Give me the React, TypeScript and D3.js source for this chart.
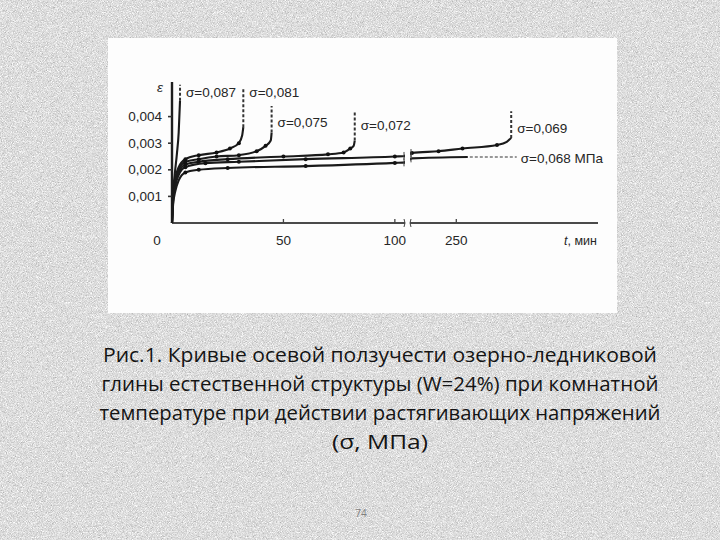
import React from "react";
import * as d3 from "d3";

// ---- data ----
const sigmaLabels = ["σ=0,087", "σ=0,081", "σ=0,075", "σ=0,072", "σ=0,069", "σ=0,068  МПа"];

const s087: [number, number][] = [[0, 0], [0.4, 0.001], [1.2, 0.0018], [2.2, 0.0026], [3.0, 0.0034], [3.6, 0.0046]];
const s081: [number, number][] = [[0, 0], [0.5, 0.0011], [1.5, 0.0017], [3, 0.0021], [6, 0.0024], [12, 0.00255], [20, 0.00265], [26, 0.0028], [30, 0.003], [31.5, 0.0033], [32, 0.0036]];
const s075: [number, number][] = [[0, 0], [0.5, 0.001], [1.5, 0.0016], [3, 0.002], [6, 0.0023], [12, 0.0024], [20, 0.0025], [30, 0.00255], [38, 0.0027], [42, 0.0029], [44.3, 0.0031], [44.7, 0.0034]];
const s072: [number, number][] = [[0, 0], [0.5, 0.0009], [1.5, 0.0015], [3, 0.0019], [6, 0.0022], [12, 0.0023], [25, 0.0024], [50, 0.0025], [70, 0.00258], [77, 0.00265], [80, 0.0028], [81.5, 0.0029], [82, 0.0031]];
const s069: [number, number][] = [[0, 0], [0.5, 0.0008], [1.5, 0.0014], [3, 0.0018], [6, 0.0021], [15, 0.00225], [30, 0.0023], [60, 0.0024], [100, 0.0025], [105, 0.00252], [200, 0.00263], [230, 0.0027], [257, 0.0028], [296, 0.00293], [307, 0.00305], [312, 0.0032]];
const s068: [number, number][] = [[0, 0], [0.5, 0.0007], [1.5, 0.0012], [3, 0.0016], [6, 0.0019], [12, 0.002], [25, 0.00207], [60, 0.00214], [100, 0.00226], [105, 0.00228], [200, 0.00243], [263, 0.00248]];

const seriesList = [s087, s081, s075, s072, s069, s068];
// dashed continuation: top strain of vertical dash (null = horizontal dash to label)
const dashTops: (number | null)[] = [0.0052, 0.0051, 0.0044, 0.0042, 0.0042, null];
// label anchor strain (baseline)
const labelEps = [0.00474, 0.00474, 0.00361, 0.0035, 0.00338, 0.00226];
const labelT = [3.6, 32, 44.7, 82, 312, 316];

const yTicks = [0.001, 0.002, 0.003, 0.004];
const yTickLabels = ["0,001", "0,002", "0,003", "0,004"];
const xTicks = [50, 100, 250];
const xTickLabels = ["50", "100", "250"];

const captionLines = [
  "Рис.1. Кривые осевой ползучести озерно-ледниковой",
  "глины естественной структуры (W=24%) при комнатной",
  "температуре при действии растягивающих напряжений",
  "(σ, МПа)",
];
const pageNumber = "74";

export default function App() {
  const x = d3.scaleLinear().domain([0, 105, 200, 410]).range([172, 406, 412, 598]);
  const y = d3.scaleLinear().domain([0, 0.005]).range([223, 90]);
  const line = d3
    .line<[number, number]>()
    .x((d) => x(d[0]))
    .y((d) => y(d[1]))
    .curve(d3.curveMonotoneX);

  const chartFont = "'Liberation Sans', Arial, sans-serif";
  const capWidths = [554, 557, 561, 96];
  const capBase = [362, 391, 420, 449];
  const ink = "#262626";

  return (
    <svg
      width={720}
      height={540}
      style={{ position: "absolute", left: 0, top: 0 }}
      xmlns="http://www.w3.org/2000/svg"
    >
      <defs>
        <filter id="noise" x="0" y="0" width="100%" height="100%" colorInterpolationFilters="sRGB">
          <feTurbulence type="fractalNoise" baseFrequency="1.2" numOctaves="2" seed="4" result="t" />
          <feColorMatrix
            in="t"
            type="matrix"
            values="0.33 0.33 0.33 0 0  0.33 0.33 0.33 0 0  0.33 0.33 0.33 0 0  0 0 0 0 1"
          />
          <feComponentTransfer>
            <feFuncR type="linear" slope="0.7" intercept="0.52" />
            <feFuncG type="linear" slope="0.7" intercept="0.52" />
            <feFuncB type="linear" slope="0.7" intercept="0.52" />
          </feComponentTransfer>
        </filter>
      </defs>
      <rect x={0} y={0} width={720} height={540} fill="#d8d8d8" />
      <rect x={0} y={0} width={720} height={540} filter="url(#noise)" />
      {/* white figure panel */}
      <rect x={108} y={38} width={509} height={275} fill="#fdfdfd" />

      {/* axes */}
      <line x1={172} x2={172} y1={y(0.0053)} y2={y(0)} stroke="#1e1e1e" strokeWidth={2.4} />
      <line x1={172} x2={598} y1={y(0)} y2={y(0)} stroke="#4a4a4a" strokeWidth={2.2} />
      {yTicks.map((t, i) => (
        <g key={"yt" + i}>
          <line x1={168} x2={172} y1={y(t)} y2={y(t)} stroke="#333" strokeWidth={1.6} />
          <text
            x={162}
            y={y(t) + 4.5}
            textAnchor="end"
            fontFamily={chartFont}
            fontSize={13.5}
            fill={ink}
          >
            {yTickLabels[i]}
          </text>
        </g>
      ))}
      {xTicks.map((t, i) => (
        <g key={"xt" + i}>
          <line x1={x(t)} x2={x(t)} y1={y(0) - 4} y2={y(0)} stroke="#444" strokeWidth={1.3} />
          <text
            x={x(t)}
            y={245}
            textAnchor="middle"
            fontFamily={chartFont}
            fontSize={13.5}
            fill={ink}
          >
            {xTickLabels[i]}
          </text>
        </g>
      ))}
      <text x={157} y={245} textAnchor="middle" fontFamily={chartFont} fontSize={13.5} fill={ink}>
        0
      </text>
      <text x={160} y={92} textAnchor="middle" fontFamily={chartFont} fontSize={13.5} fontStyle="italic" fill={ink}>
        ε
      </text>
      <text x={564} y={245} fontFamily={chartFont} fontSize={12.5} fill={ink}>
        <tspan fontStyle="italic">t</tspan>, мин
      </text>
      {/* x axis break */}
      <rect x={405} y={y(0) - 5} width={5} height={10} fill="#fdfdfd" />
      <path d={`M404,${y(0) + 4} q2,-4 0,-8 M411,${y(0) + 4} q-2,-4 0,-8`} stroke="#444" fill="none" strokeWidth={1} />

      {/* curves */}
      {seriesList.map((s, i) => {
        const last = s[s.length - 1];
        const dt = dashTops[i];
        return (
          <g key={"s" + i}>
            <path d={line(s) || ""} fill="none" stroke="#1a1a1a" strokeWidth={2.1} />
            {dt !== null ? (
              <line
                x1={x(last[0])}
                x2={x(last[0])}
                y1={y(last[1])}
                y2={y(dt)}
                stroke="#333"
                strokeWidth={2}
                strokeDasharray="3,2"
              />
            ) : (
              <line
                x1={x(last[0]) + 2}
                x2={x(labelT[i]) + 2}
                y1={y(last[1])}
                y2={y(last[1])}
                stroke="#333"
                strokeWidth={1.1}
                strokeDasharray="3,2"
              />
            )}
            {s
              .filter((d, j) => d[0] >= 6 && j < s.length - 2)
              .map((d, j) => (
                <circle key={j} cx={x(d[0])} cy={y(d[1])} r={2} fill="#111" />
              ))}
            <text
              x={x(labelT[i]) + 6}
              y={y(labelEps[i])}
              fontFamily={chartFont}
              fontSize={13.5}
              fill={ink}
            >
              {sigmaLabels[i]}
            </text>
          </g>
        );
      })}
      {/* line break gap */}
      <rect x={405} y={y(0.0027)} width={5} height={y(0.0021) - y(0.0027)} fill="#fdfdfd" />
      {[s069, s068].map((s, i) => {
        const a = s.find((d) => d[0] === 105)!;
        const b = s.find((d) => d[0] === 200)!;
        return (
          <g key={"br" + i}>
            <line x1={404} x2={404} y1={y(a[1]) - 4} y2={y(a[1]) + 4} stroke="#444" strokeWidth={1} />
            <line x1={411} x2={411} y1={y(b[1]) - 4} y2={y(b[1]) + 4} stroke="#444" strokeWidth={1} />
          </g>
        );
      })}

      {/* caption */}
      {captionLines.map((l, i) => (
        <text
          key={"c" + i}
          x={380}
          y={capBase[i]}
          textAnchor="middle"
          fontFamily="'Open Sans', 'Noto Sans', sans-serif"
          fontSize={19.5}
          fill="#141414"
          textLength={capWidths[i]}
          lengthAdjust="spacingAndGlyphs"
        >
          {l}
        </text>
      ))}
      <text x={361} y={517} textAnchor="middle" fontFamily="'Open Sans', sans-serif" fontSize={10} fill="#7f7f7f">
        {pageNumber}
      </text>
    </svg>
  );
}
